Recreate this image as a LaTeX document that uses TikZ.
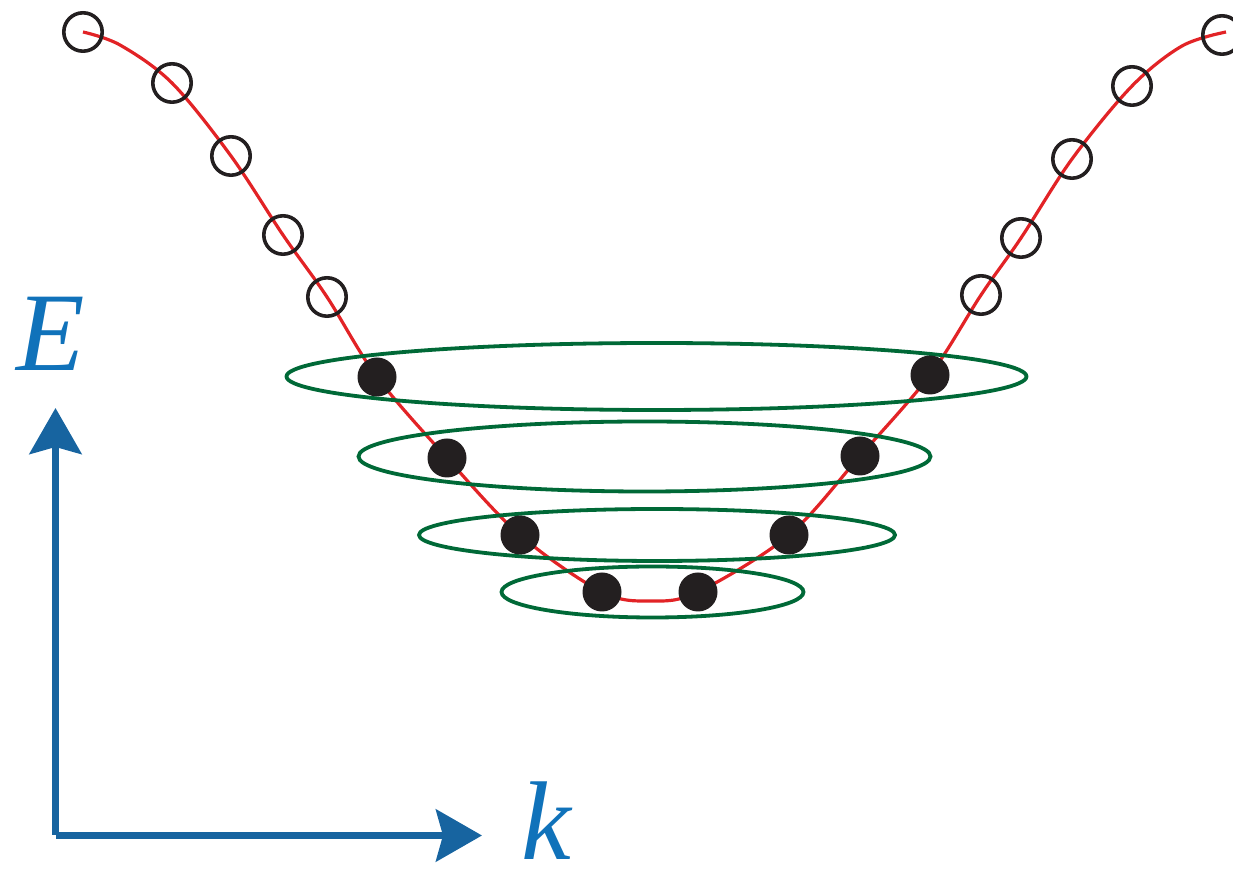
\documentclass[tikz,border=0pt]{standalone}
\usepackage{fontspec}
\setmainfont{Liberation Serif}
\usetikzlibrary{arrows.meta,shapes.geometric}
\definecolor{axisblue}{RGB}{23,100,160}
\definecolor{labelblue}{RGB}{16,114,186}
\definecolor{bandred}{RGB}{226,35,38}
\definecolor{ringgreen}{RGB}{0,105,55}
\definecolor{dotblack}{RGB}{35,31,32}
\begin{document}
\begin{tikzpicture}[x=0.5pt,y=-0.5pt,
  opencirc/.style={circle,draw=dotblack,line width=1.8pt,minimum size=19.2pt,inner sep=0pt},
  fullcirc/.style={circle,fill=dotblack,minimum size=19.5pt,inner sep=0pt},
  ring/.style={ellipse,draw=ringgreen,line width=1.9pt,inner sep=0pt},
  band/.style={draw=bandred,line width=1.6pt},
  axisline/.style={draw=axisblue,line width=3.5pt,line cap=butt},
  axistip/.style={-{Stealth[length=23pt,width=26pt,inset=3.5pt]}},
  axislabel/.style={text=labelblue,inner sep=0pt,font=\fontsize{56pt}{60pt}\selectfont\itshape}]
\useasboundingbox (0,0) rectangle (1233,870);
% points on the band
\coordinate (l1) at (83,32);
\coordinate (l2) at (172,83);
\coordinate (l3) at (231,156);
\coordinate (l4) at (283,235);
\coordinate (l5) at (327,297);
\coordinate (f1) at (377,377);
\coordinate (f2) at (447,458);
\coordinate (f3) at (520,535);
\coordinate (f4) at (602,592);
\coordinate (bot) at (651,601);
\coordinate (g4) at (698,592);
\coordinate (g3) at (789,535);
\coordinate (g2) at (860,456);
\coordinate (g1) at (930,375);
\coordinate (r5) at (981,295);
\coordinate (r4) at (1021,238);
\coordinate (r3) at (1072,159);
\coordinate (r2) at (1132,86);
\coordinate (r1) at (1222,35);
\coordinate (bandend) at (1226,32);
% band curve
\draw[band] plot[smooth,tension=0.55] coordinates {(l1) (120,45) (l2) (l3) (l4) (l5) (f1) (f2) (f3) (f4) (bot) (g4) (g3) (g2) (g1) (r5) (r4) (r3) (r2) (1182,46) (bandend)};
% rings
\node[ring,minimum width=370pt,minimum height=33.5pt] (e1) at (656.5,376.5) {};
\node[ring,minimum width=286pt,minimum height=35pt] (e2) at (644.5,456.5) {};
\node[ring,minimum width=238pt,minimum height=26pt] (e3) at (657,535) {};
\node[ring,minimum width=151pt,minimum height=25.5pt] (e4) at (652.5,592) {};
% open states
\foreach \p in {l1,l2,l3,l4,l5,r1,r2,r3,r4,r5} \node[opencirc] (o\p) at (\p) {};
% filled states
\foreach \p in {f1,f2,f3,f4,g1,g2,g3,g4} \node[fullcirc] (d\p) at (\p) {};
% axes
\coordinate (O) at (55.5,835.5);
\coordinate (Vstart) at (55.5,835);
\coordinate (Etip) at (55.5,408);
\coordinate (ktip) at (482,835.5);
\draw[axisline,axistip] (Vstart) -- (Etip);
\draw[axisline,axistip] (O) -- (ktip);
\node[axislabel,anchor=base west] (Elab) at (16,371) {E};
\node[axislabel,anchor=base west] (klab) at (521,860) {k};
\end{tikzpicture}
\end{document}
